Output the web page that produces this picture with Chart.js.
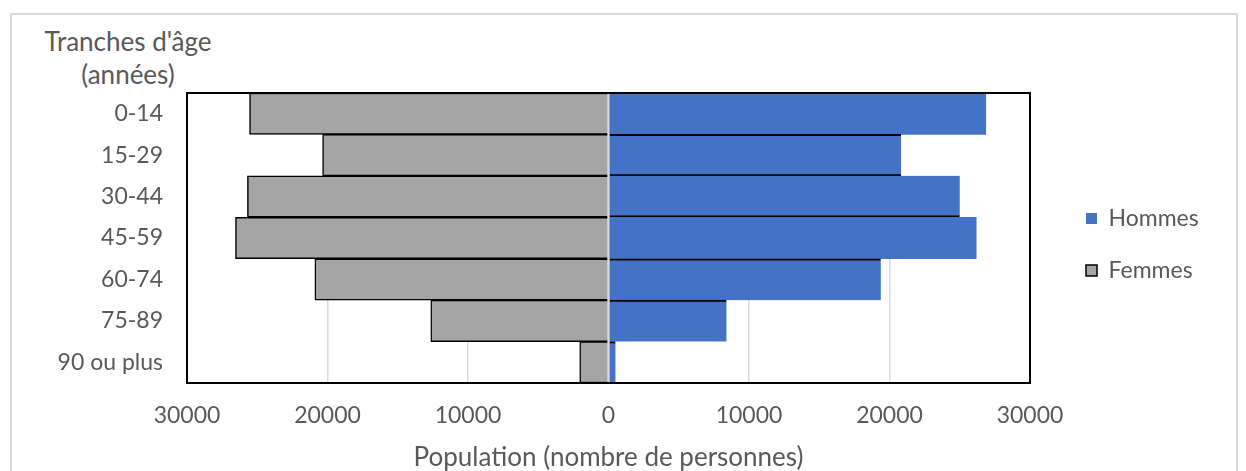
<!DOCTYPE html>
<html lang="fr">
<head>
<meta charset="utf-8">
<title>Pyramide des âges</title>
<script src="https://cdn.jsdelivr.net/npm/chart.js@4.4.1/dist/chart.umd.min.js"></script>
<style>
  html, body { margin: 0; padding: 0; background: #fff; overflow: hidden; }
  #cadre { position: absolute; left: 10px; top: 13px; width: 1228px; height: 500px; border: 2px solid #d9d9d9; box-sizing: border-box; }
  #titreY { position: absolute; left: 18px; top: 25px; width: 220px; text-align: center; font: 26px Lato, sans-serif; line-height: 33px; color: #595959; }
  canvas { position: absolute; left: 0; top: 0; }
</style>
</head>
<body>
<div id="cadre"></div>
<div id="titreY">Tranches d'âge<br>(années)</div>
<canvas id="pyramide" width="1246" height="471"></canvas>
<script>
// données
const tranches = ['0-14', '15-29', '30-44', '45-59', '60-74', '75-89', '90 ou plus'];
const hommes = [26850, 20830, 25000, 26170, 19380, 8400, 500];
const femmes = [25550, 20350, 25700, 26550, 20900, 12650, 2050];
const graduations = [-30000, -20000, -10000, 0, 10000, 20000, 30000];

const gris = '#595959';

// trait noir entre deux barres bleues, seulement sur la plus courte des deux
const bordHommes = ctx => {
    const i = ctx.dataIndex;
    const v = hommes[i], avant = hommes[i - 1], apres = hommes[i + 1];
    return {
        top: avant !== undefined && avant >= v ? 2 : 0,
        bottom: apres !== undefined && apres >= v ? 2 : 0,
        left: 0, right: 0
    };
};

const cadrePlot = {
    id: 'cadrePlot',
    afterLayout(chart) {
        // décale la légende vers la droite / le bas comme dans Excel
        const leg = chart.legend;
        leg.left += 27;
        leg.right = chart.width;
        leg.width = leg.right - leg.left;
        leg.top += 6.5; leg.bottom += 6.5;
    },
    afterDatasetsDraw(chart) {
        const {ctx, chartArea: a, scales: {x}} = chart;
        const x0 = x.getPixelForValue(0);
        ctx.save();
        ctx.strokeStyle = '#d9d9d9';
        ctx.lineWidth = 2;
        ctx.beginPath();
        ctx.moveTo(x0, a.top);
        ctx.lineTo(x0, a.bottom);
        ctx.stroke();
        ctx.strokeStyle = '#000';
        ctx.lineWidth = 2;
        ctx.strokeRect(a.left, a.top, a.right - a.left, a.bottom - a.top);
        ctx.restore();
    }
};

new Chart(document.getElementById('pyramide'), {
    type: 'bar',
    data: {
        labels: tranches,
        datasets: [
            {
                label: 'Hommes',
                data: hommes,
                backgroundColor: '#4472C4',
                borderColor: '#000',
                borderWidth: bordHommes,
                borderSkipped: false
            },
            {
                label: 'Femmes',
                data: femmes.map(v => -v),
                backgroundColor: '#A5A5A5',
                borderColor: '#000',
                borderWidth: 1.5,
                borderSkipped: 'start'
            }
        ]
    },
    options: {
        indexAxis: 'y',
        responsive: false,
        animation: false,
        devicePixelRatio: 1,
        categoryPercentage: 1,
        barPercentage: 1,
        layout: { padding: { top: 93, right: 96, left: 0, bottom: 0 } },
        scales: {
            x: {
                stacked: true,
                min: -30000,
                max: 30000,
                afterBuildTicks: s => { s.ticks = graduations.map(v => ({ value: v })); },
                afterFit: s => { s.height = 88; },
                grid: { color: '#d9d9d9', lineWidth: 1.5, drawTicks: false },
                border: { display: false },
                ticks: {
                    padding: 19,
                    color: gris,
                    font: { family: 'Lato', size: 23 },
                    callback: v => String(Math.abs(v))
                },
                title: {
                    display: true,
                    text: 'Population (nombre de personnes)',
                    color: gris,
                    font: { family: 'Lato', size: 26, lineHeight: 1 },
                    padding: { top: 0, bottom: 0 }
                }
            },
            y: {
                stacked: true,
                afterFit: s => { s.width = 187; },
                grid: { display: false, drawTicks: false },
                border: { display: false },
                ticks: {
                    padding: 24,
                    color: gris,
                    font: { family: 'Lato', size: 23 }
                }
            }
        },
        plugins: {
            legend: {
                position: 'right',
                fullSize: false,
                maxWidth: 120,
                labels: {
                    boxWidth: 11,
                    boxHeight: 11,
                    padding: 29,
                    color: gris,
                    font: { family: 'Lato', size: 23 }
                }
            },
            tooltip: { enabled: false }
        }
    },
    plugins: [cadrePlot]
});
</script>
</body>
</html>
